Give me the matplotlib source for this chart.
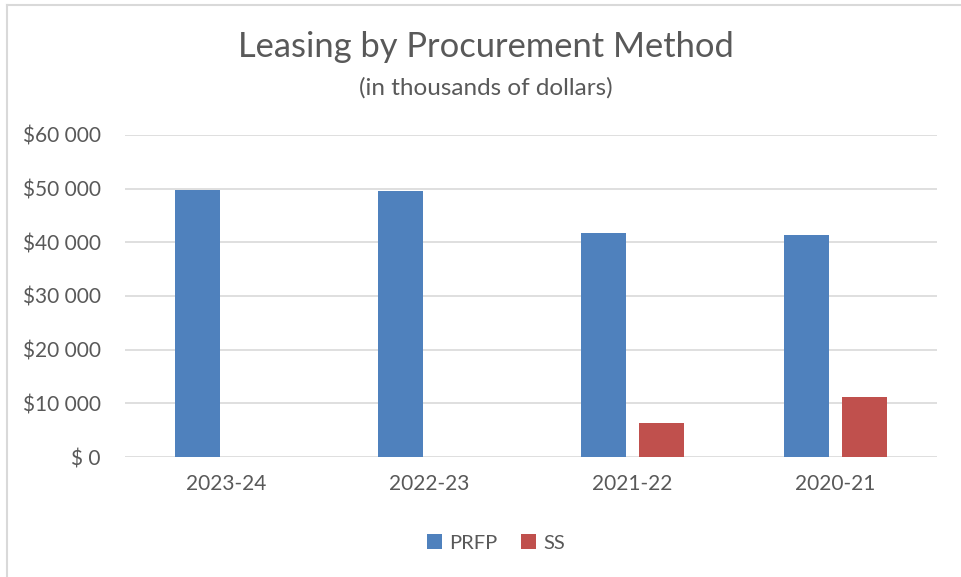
import matplotlib
matplotlib.use("Agg")
import matplotlib.pyplot as plt
from matplotlib.lines import Line2D
from matplotlib.ticker import FuncFormatter
import numpy as np

categories = ["2023-24", "2022-23", "2021-22", "2020-21"]
prfp = [49700, 49500, 41800, 41400]
ss = [0, 50, 6400, 11200]
series_names = ["PRFP", "SS"]
y_ticks = [0, 10000, 20000, 30000, 40000, 50000, 60000]

plt.rcParams['font.family'] = ['Lato', 'DejaVu Sans']
TXT = "#595959"
BLUE = "#4F81BD"
RED = "#C0504D"

fig = plt.figure(figsize=(9.61, 5.77), dpi=100)
ax = fig.add_axes([125/961, 1-457/577, (937-125)/961, (457-135)/577])

x = np.arange(len(categories))
w = 0.222
gap = 0.06
ax.bar(x - (w+gap)/2, prfp, width=w, color=BLUE, label=series_names[0], zorder=3)
ax.bar(x + (w+gap)/2, ss, width=w, color=RED, label=series_names[1], zorder=3)

ax.set_xlim(-0.5, len(categories)-0.5)
ax.set_ylim(0, 60000)
ax.set_yticks(y_ticks)
def fmt(v, pos):
    if v == 0:
        return "$ 0"
    return "$" + f"{int(v):,}".replace(",", " ")
ax.yaxis.set_major_formatter(FuncFormatter(fmt))
ax.set_xticks(x)
ax.set_xticklabels(categories)
ax.tick_params(axis='both', length=0, labelsize=15, colors=TXT)
ax.tick_params(axis='x', pad=12)
ax.tick_params(axis='y', pad=17.5)
ax.grid(axis='y', color="#D9D9D9", linewidth=1.2, zorder=0)
for s in ax.spines.values():
    s.set_visible(False)

fig.text(486/961, 1-47/577, "Leasing by Procurement Method", ha='center', va='center',
         fontsize=24.8, color=TXT)
fig.text(486/961, 1-88/577, "(in thousands of dollars)", ha='center', va='center',
         fontsize=17.5, color=TXT)

leg = fig.legend(loc='center', bbox_to_anchor=(496/961, 1-543/577), ncol=2, frameon=False,
                 fontsize=14.5, handlelength=0.75, handleheight=0.75, columnspacing=1.2,
                 handletextpad=0.35)
for t in leg.get_texts():
    t.set_color(TXT)

fig.add_artist(Line2D([6.5/961, 6.5/961], [0, 1-4.5/577], transform=fig.transFigure,
                      color="#D9D9D9", linewidth=1.5))
fig.add_artist(Line2D([6.5/961, 1], [1-4.5/577, 1-4.5/577], transform=fig.transFigure,
                      color="#D9D9D9", linewidth=1.5))

fig.savefig("out.png", dpi=100)
